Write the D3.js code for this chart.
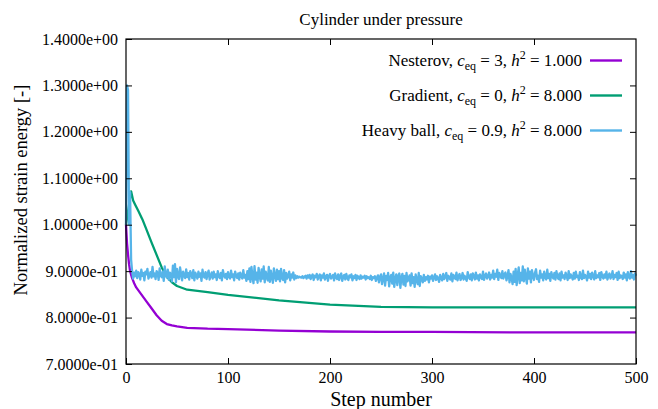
<!DOCTYPE html>
<html>
<head>
<meta charset="utf-8">
<script src="https://cdn.jsdelivr.net/npm/d3@7"></script>
<style>
  body { margin: 0; background: #fff; }
</style>
</head>
<body>
<div id="chart"></div>
<script>
// x tick values and y tick values
const xTicks = [0, 100, 200, 300, 400, 500];
const yTicks = [0.7, 0.8, 0.9, 1.0, 1.1, 1.2, 1.3, 1.4];

// Nesterov (step, value)
const nesterovSteps = [0, 1, 2, 3, 4, 6, 8, 10, 15, 20, 25, 30, 35, 40, 45, 50, 60, 80, 100, 150, 200, 250, 300, 400, 500];
const nesterovVals = [1.0, 0.96, 0.935, 0.915, 0.9, 0.885, 0.874, 0.865, 0.85, 0.835, 0.82, 0.805, 0.793, 0.786, 0.783, 0.781, 0.778, 0.776, 0.775, 0.772, 0.770, 0.769, 0.769, 0.768, 0.768];

// Gradient (step, value)
const gradientSteps = [0, 5, 7, 9, 12, 16, 20, 25, 30, 35, 40, 45, 50, 60, 80, 100, 150, 200, 250, 300, 400, 500];
const gradientVals = [1.0, 1.072, 1.052, 1.043, 1.03, 1.012, 0.99, 0.962, 0.935, 0.908, 0.888, 0.876, 0.868, 0.86, 0.855, 0.849, 0.837, 0.828, 0.823, 0.822, 0.822, 0.822];

// Heavy ball, one value per step 0..500 (thousandths)
const heavyBall = [
  1000, 1300, 1290, 1000, 1070, 925, 900, 884, 897, 889,
  901, 885, 898, 894, 882, 903, 890, 896, 880, 899,
  893, 905, 884, 891, 898, 886, 909, 889, 895, 883,
  900, 896, 881, 906, 890, 887, 899, 879, 910, 892,
  886, 903, 881, 897, 893, 878, 912, 887, 915, 876,
  905, 889, 883, 908, 894, 880, 899, 891, 885, 904,
  887, 896, 882, 900, 893, 885, 902, 880, 897, 891,
  884, 899, 888, 895, 879, 903, 889, 886, 898, 883,
  894, 901, 882, 890, 897, 884, 899, 887, 893, 881,
  900, 889, 885, 896, 880, 902, 891, 886, 894, 883,
  898, 888, 884, 901, 887, 893, 880, 899, 890, 885,
  895, 882, 897, 889, 884, 902, 886, 892, 879, 900,
  883, 906, 877, 909, 888, 874, 911, 882, 897, 875,
  907, 889, 878, 904, 884, 910, 876, 899, 887, 880,
  909, 877, 901, 886, 875, 906, 890, 879, 903, 883,
  900, 878, 905, 885, 881, 902, 876, 896, 884, 890,
  899, 880, 893, 886, 897, 882, 891, 885, 889, 886,
  888, 887, 886, 889, 885, 888, 890, 884, 891, 886,
  892, 883, 889, 893, 881, 890, 887, 894, 882, 889,
  893, 880, 891, 886, 895, 882, 888, 892, 879, 890,
  894, 884, 887, 892, 880, 895, 886, 883, 893, 881,
  890, 895, 879, 888, 892, 882, 894, 885, 881, 891,
  887, 893, 880, 889, 885, 892, 881, 890, 886, 883,
  891, 884, 888, 886, 890, 882, 889, 885, 887, 883,
  890, 881, 887, 885, 889, 879, 886, 891, 876, 888,
  893, 872, 884, 895, 869, 890, 881, 896, 867, 887,
  892, 873, 897, 866, 884, 893, 870, 889, 895, 864,
  886, 894, 871, 890, 868, 896, 878, 883, 891, 869,
  895, 874, 887, 866, 893, 880, 872, 896, 868, 889,
  884, 876, 892, 879, 887, 882, 890, 876, 888, 884,
  891, 879, 886, 893, 881, 889, 884, 877, 892, 885,
  880, 894, 883, 888, 896, 879, 890, 885, 882, 895,
  878, 892, 887, 883, 897, 880, 889, 894, 881, 886,
  896, 882, 890, 884, 879, 898, 887, 883, 893, 880,
  895, 889, 882, 897, 884, 891, 880, 893, 887, 883,
  899, 881, 890, 895, 884, 888, 897, 882, 892, 886,
  901, 883, 894, 888, 903, 881, 896, 890, 885, 900,
  884, 893, 897, 880, 889, 902, 876, 894, 885, 872,
  899, 877, 905, 870, 891, 908, 874, 896, 880, 910,
  878, 903, 887, 873, 906, 884, 899, 876, 902, 889,
  881, 897, 904, 883, 890, 877, 901, 886, 893, 880,
  899, 887, 882, 903, 885, 894, 879, 898, 888, 884,
  896, 882, 900, 887, 883, 895, 880, 899, 886, 891,
  883, 897, 889, 881, 900, 885, 893, 888, 882, 896,
  884, 899, 887, 890, 881, 898, 886, 883, 901, 885,
  892, 888, 880, 899, 886, 894, 883, 897, 889, 882,
  900, 885, 891, 887, 896, 881, 898, 888, 884, 893,
  886, 899, 882, 890, 895, 884, 888, 900, 883, 892,
  887, 896, 881, 899, 885, 891, 889, 883, 897, 886,
  893, 880, 898, 887, 884, 900, 886, 892, 882, 895,
  890
];

const W = 658, H = 409;
const margin = {top: 39, right: 22, bottom: 45, left: 126};
const width = W - margin.left - margin.right;
const height = H - margin.top - margin.bottom;
const FONT = '"Liberation Serif", "Times New Roman", serif';

const svg = d3.select('#chart').append('svg')
    .attr('width', W)
    .attr('height', H);

const x = d3.scaleLinear().domain([0, 500]).range([margin.left, margin.left + width]);
const y = d3.scaleLinear().domain([0.7, 1.4]).range([margin.top + height, margin.top]);

// series in plotting order, heavy ball ends on top
const series = [
    {color: '#9400d3', pts: nesterovSteps.map((s, i) => [s, nesterovVals[i]])},
    {color: '#009e73', pts: gradientSteps.map((s, i) => [s, gradientVals[i]])},
    {color: '#56b4e9', pts: heavyBall.map((v, i) => [i, v / 1000])}
];

const line = d3.line().x(d => x(d[0])).y(d => y(d[1]));

series.forEach(s => {
    svg.append('path')
        .datum(s.pts)
        .attr('d', line)
        .attr('fill', 'none')
        .attr('stroke', s.color)
        .attr('stroke-width', 2.3)
        .attr('stroke-linejoin', 'round');
});

// axes with inward ticks, mirrored
const tl = 6;
svg.append('g')
    .attr('transform', `translate(0, ${margin.top + height})`)
    .call(d3.axisBottom(x).tickValues(xTicks).tickSizeInner(-tl).tickSizeOuter(0).tickPadding(8))
    .call(g => g.select('.domain').remove());

svg.append('g')
    .attr('transform', `translate(0, ${margin.top})`)
    .call(d3.axisTop(x).tickValues(xTicks.slice(1, -1)).tickSizeInner(-tl).tickSizeOuter(0).tickFormat(''))
    .call(g => g.select('.domain').remove());

svg.append('g')
    .attr('transform', `translate(${margin.left}, 0)`)
    .call(d3.axisLeft(y).tickValues(yTicks).tickSizeInner(-tl).tickSizeOuter(0).tickPadding(8)
        .tickFormat(d => {
            const e = Math.floor(Math.log10(d) + 1e-9);
            const m = d / Math.pow(10, e);
            const sign = e < 0 ? '-' : '+';
            return m.toFixed(4) + 'e' + sign + String(Math.abs(e)).padStart(2, '0');
        }))
    .call(g => g.select('.domain').remove());

svg.append('g')
    .attr('transform', `translate(${margin.left + width}, 0)`)
    .call(d3.axisRight(y).tickValues(yTicks.slice(1, -1)).tickSizeInner(-tl).tickSizeOuter(0).tickFormat(''))
    .call(g => g.select('.domain').remove());

svg.selectAll('.tick line').attr('stroke', '#000');
svg.selectAll('.tick text').style('font-size', '16px').attr('fill', '#000');

// frame
svg.append('rect')
    .attr('x', margin.left)
    .attr('y', margin.top)
    .attr('width', width)
    .attr('height', height)
    .attr('fill', 'none')
    .attr('stroke', '#000')
    .attr('stroke-width', 1.2);

// title and axis labels
svg.append('text')
    .attr('x', margin.left + width / 2)
    .attr('y', 25)
    .attr('text-anchor', 'middle')
    .style('font-size', '17px')
    .text('Cylinder under pressure');

svg.append('text')
    .attr('x', margin.left + width / 2)
    .attr('y', 406)
    .attr('text-anchor', 'middle')
    .style('font-size', '20px')
    .text('Step number');

svg.append('text')
    .attr('transform', 'translate(27, 190) rotate(-90)')
    .attr('text-anchor', 'middle')
    .style('font-size', '18.5px')
    .text('Normalized strain energy [-]');

// legend
const legend = [
    {name: 'Nesterov', c: '3', h: '1.000', color: '#9400d3'},
    {name: 'Gradient', c: '0', h: '8.000', color: '#009e73'},
    {name: 'Heavy ball', c: '0.9', h: '8.000', color: '#56b4e9'}
];

legend.forEach((d, i) => {
    const ly = 60.5 + i * 35;
    const t = svg.append('text')
        .attr('x', 582)
        .attr('y', ly + 5)
        .attr('text-anchor', 'end')
        .style('font-size', '17px');
    t.append('tspan').text(d.name + ', ');
    t.append('tspan').style('font-style', 'italic').text('c');
    t.append('tspan').attr('dy', 4).style('font-size', '12px').text('eq');
    t.append('tspan').attr('dy', -4).text(' = ' + d.c + ', ');
    t.append('tspan').style('font-style', 'italic').text('h');
    t.append('tspan').attr('dy', -7).style('font-size', '12px').text('2');
    t.append('tspan').attr('dy', 7).text(' = ' + d.h);

    svg.append('line')
        .attr('x1', 590)
        .attr('x2', 622)
        .attr('y1', ly)
        .attr('y2', ly)
        .attr('stroke', d.color)
        .attr('stroke-width', 2.4);
});

svg.selectAll('text').style('font-family', FONT);
</script>
</body>
</html>
